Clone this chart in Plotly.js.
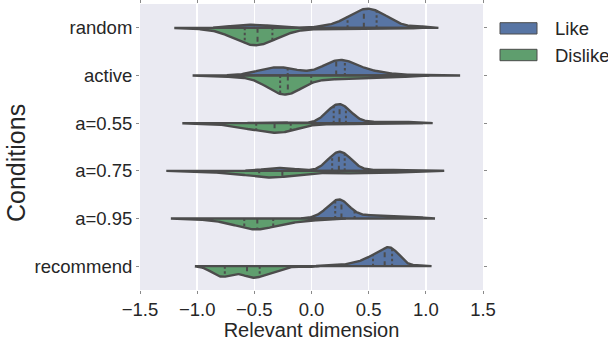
<!DOCTYPE html>
<html><head><meta charset="utf-8">
<script src="https://cdn.plot.ly/plotly-3.0.1.min.js"></script>
<style>html,body{margin:0;padding:0;background:#fff;}#chart{width:608px;height:341px;}</style>
</head><body><div id="chart"></div>
<script>
// ---------- data ----------
const conditions = ["random", "active", "a=0.55", "a=0.75", "a=0.95", "recommend"];
const hueNames = ["Like", "Dislike"];
const xTickValues = [-1.5, -1.0, -0.5, 0.0, 0.5, 1.0, 1.5];
const xTickLabels = ["\u22121.5", "\u22121.0", "\u22120.5", "0.0", "0.5", "1.0", "1.5"];

const likeRandom = [-0.70,-0.59,-0.52,-0.45,-0.34,0.196,0.265,0.302,0.329,0.351,0.37,0.388,0.403,0.418,0.432,0.445,0.458,0.471,0.484,0.496,0.509,0.522,0.535,0.548,0.562,0.577,0.592,0.61,0.629,0.651,0.678,0.715,0.784,0.103,0.301,0.431,0.549,0.679,0.95];
const dislikeRandom = [-0.98,-0.76,-0.63,-0.50,-0.37,-0.24,-0.06,-0.80,-0.73,-0.69,-0.66,-0.638,-0.618,-0.60,-0.584,-0.57,-0.557,-0.544,-0.532,-0.519,-0.508,-0.496,-0.484,-0.472,-0.461,-0.448,-0.436,-0.423,-0.41,-0.396,-0.38,-0.362,-0.342,-0.318,-0.29,-0.25,-0.18,0.15,0.35,0.55,0.75];
const likeActive = [-0.48,-0.417,-0.379,-0.35,-0.325,-0.302,-0.278,-0.255,-0.23,-0.201,-0.163,-0.10,0.14,0.167,0.182,0.194,0.203,0.212,0.22,0.228,0.235,0.242,0.25,0.258,0.267,0.276,0.288,0.303,0.33,0.36,0.41,0.46,0.51,0.57,0.66,1.04];
const dislikeActive = [-0.78,-0.56,-0.45,-0.375,-0.341,-0.323,-0.309,-0.298,-0.288,-0.28,-0.272,-0.265,-0.257,-0.251,-0.244,-0.237,-0.231,-0.224,-0.217,-0.211,-0.203,-0.196,-0.188,-0.18,-0.17,-0.159,-0.145,-0.127,-0.093,-0.02,0.05,0.12,0.19,0.26,0.33,0.41,0.49,0.57,0.66,0.77];
const likeA55 = [-0.40,-0.25,0.102,0.133,0.15,0.163,0.173,0.181,0.189,0.196,0.203,0.209,0.215,0.221,0.226,0.232,0.237,0.243,0.248,0.254,0.259,0.265,0.271,0.277,0.284,0.291,0.299,0.307,0.317,0.33,0.347,0.378,0.52,0.64,0.78,0.90];
const dislikeA55 = [-0.95,-0.751,-0.694,-0.65,-0.611,-0.581,-0.551,-0.523,-0.50,-0.478,-0.454,-0.433,-0.415,-0.397,-0.38,-0.362,-0.345,-0.331,-0.315,-0.301,-0.286,-0.271,-0.256,-0.239,-0.221,-0.204,-0.186,-0.169,-0.143,-0.116,-0.089,-0.002,0.119,0.321,0.528,0.795];
const likeA75 = [-0.418,-0.347,-0.301,-0.259,-0.213,-0.142,0.119,0.147,0.163,0.174,0.183,0.191,0.199,0.205,0.211,0.217,0.222,0.227,0.232,0.237,0.242,0.247,0.252,0.257,0.262,0.267,0.272,0.277,0.283,0.289,0.295,0.303,0.311,0.32,0.331,0.347,0.375,0.55,0.72,1.0];
const dislikeA75 = [-1.03,-0.86,-0.78,-0.71,-0.65,-0.60,-0.56,-0.52,-0.49,-0.465,-0.455,-0.43,-0.41,-0.385,-0.365,-0.345,-0.325,-0.305,-0.285,-0.265,-0.245,-0.22,-0.19,-0.16,-0.125,-0.08,-0.02,0.05,0.13,0.23,0.27,0.33,0.39,0.45,0.51,0.57,0.64,0.72,0.82,0.92];
const likeA95 = [0.05,0.11,0.114,0.143,0.159,0.171,0.181,0.189,0.196,0.203,0.209,0.215,0.221,0.227,0.232,0.237,0.243,0.248,0.253,0.259,0.265,0.271,0.277,0.284,0.291,0.299,0.309,0.321,0.337,0.366,0.41,0.46,0.51,0.56,0.61,0.66,0.71,0.77,0.84,0.94];
const dislikeA95 = [-1.03,-0.88,-0.8,-0.76,-0.73,-0.70,-0.67,-0.645,-0.62,-0.597,-0.585,-0.572,-0.56,-0.548,-0.536,-0.524,-0.512,-0.50,-0.488,-0.478,-0.47,-0.455,-0.44,-0.425,-0.41,-0.395,-0.38,-0.365,-0.35,-0.34,-0.32,-0.29,-0.26,-0.23,-0.2,-0.16,-0.12,-0.07,0.0,0.1];
const likeRecommend = [0.15,0.30,0.36,0.40,0.43,0.46,0.48,0.50,0.515,0.527,0.538,0.55,0.562,0.574,0.586,0.597,0.607,0.617,0.626,0.634,0.64,0.645,0.652,0.658,0.664,0.67,0.676,0.682,0.689,0.696,0.705,0.713,0.72,0.728,0.736,0.744,0.752,0.762,0.775,0.80,0.94];
const dislikeRecommend = [-0.9,-0.87,-0.845,-0.83,-0.815,-0.80,-0.79,-0.782,-0.774,-0.768,-0.755,-0.74,-0.72,-0.70,-0.68,-0.655,-0.63,-0.61,-0.59,-0.57,-0.558,-0.546,-0.535,-0.524,-0.513,-0.502,-0.49,-0.478,-0.466,-0.456,-0.445,-0.43,-0.41,-0.39,-0.37,-0.345,-0.32,-0.29,-0.24,-0.05];

// KDE bandwidths (smoothing parameter per violin half)
const likeBandwidth = [0.08, 0.13, 0.08, 0.08, 0.07, 0.055];
const dislikeBandwidth = [0.11, 0.13, 0.09, 0.12, 0.10, 0.06];

// ---------- styling ----------
const likeColor = "#5875A4";
const dislikeColor = "#5F9E6E";
const edgeColor = "#4C4C4C";
const textColor = "#262626";
const fontFamily = "'Liberation Sans', Arial, sans-serif";
const halfWidth = 0.4;   // seaborn width 0.8, split in two halves

const likeSamples = [likeRandom, likeActive, likeA55, likeA75, likeA95, likeRecommend];
const dislikeSamples = [dislikeRandom, dislikeActive, dislikeA55, dislikeA75, dislikeA95, dislikeRecommend];

function density(sample, bw, x) {
  let s = 0;
  for (const v of sample) { const z = (x - v) / bw; s += Math.exp(-0.5 * z * z); }
  return s / (sample.length * bw * Math.sqrt(2 * Math.PI));
}
function kde(sample, bw) {
  const lo = Math.min(...sample) - 2 * bw, hi = Math.max(...sample) + 2 * bw;
  const n = 240, xs = [], ds = [];
  for (let i = 0; i < n; i++) { const x = lo + (hi - lo) * i / (n - 1); xs.push(x); ds.push(density(sample, bw, x)); }
  return {xs, ds};
}
function percentile(sample, p) {
  const s = [...sample].sort((a, b) => a - b);
  const pos = p * (s.length - 1), lo = Math.floor(pos), hi = Math.min(lo + 1, s.length - 1);
  return s[lo] + (s[hi] - s[lo]) * (pos - lo);
}

const traces = [];
const quartX = [], quartY = [], medX = [], medY = [];
conditions.forEach((cond, i) => {
  const kL = kde(likeSamples[i], likeBandwidth[i]);
  const kD = kde(dislikeSamples[i], dislikeBandwidth[i]);
  const maxD = Math.max(...kL.ds, ...kD.ds);
  const scale = halfWidth / maxD;
  const halves = [
    {k: kL, sign: -1, color: likeColor, sample: likeSamples[i], bw: likeBandwidth[i], name: hueNames[0]},
    {k: kD, sign: 1, color: dislikeColor, sample: dislikeSamples[i], bw: dislikeBandwidth[i], name: hueNames[1]}
  ];
  halves.forEach(h => {
    const xs = h.k.xs.concat(h.k.xs.slice().reverse());
    const ys = h.k.ds.map(d => i + h.sign * d * scale).concat(h.k.xs.map(() => i));
    traces.push({type: "scatter", mode: "lines", x: xs, y: ys, fill: "toself", fillcolor: h.color,
      line: {color: edgeColor, width: 2.4}, hoverinfo: "skip", showlegend: false, name: h.name + " " + cond});
    [0.25, 0.5, 0.75].forEach(p => {
      const q = percentile(h.sample, p);
      const top = i + h.sign * density(h.sample, h.bw, q) * scale;
      const X = p === 0.5 ? medX : quartX, Y = p === 0.5 ? medY : quartY;
      X.push(q, q, null); Y.push(i, top, null);
    });
  });
});
traces.push({type: "scatter", mode: "lines", x: quartX, y: quartY, line: {color: edgeColor, width: 2, dash: "2.5px,2.5px"}, hoverinfo: "skip", showlegend: false, connectgaps: false});
traces.push({type: "scatter", mode: "lines", x: medX, y: medY, line: {color: edgeColor, width: 2, dash: "5px,4px"}, hoverinfo: "skip", showlegend: false, connectgaps: false});

// plot area in px: x 140..483, y 4..290
const L = 140, R = 483, T = 4, B = 290;
const px = v => (v - L) / (R - L), py = v => (B - v) / (B - T);

const layout = {
  width: 608, height: 341,
  margin: {l: L, r: 608 - R, t: T, b: 341 - B, pad: 0},
  paper_bgcolor: "#FFFFFF", plot_bgcolor: "#EAEAF2",
  font: {family: fontFamily, color: textColor, size: 18},
  showlegend: false,
  xaxis: {range: [-1.5, 1.5], tickvals: xTickValues, ticktext: xTickLabels, showgrid: true, gridcolor: "#FFFFFF", gridwidth: 1.6,
    zeroline: false, showline: false, ticks: "outside", ticklen: 3, tickwidth: 1, tickcolor: "#8A8A8A", mirror: "ticks",
    tickfont: {size: 18.5, color: textColor, family: fontFamily},
    title: {text: "Relevant dimension", font: {size: 20, color: textColor, family: fontFamily}, standoff: 6}},
  yaxis: {range: [5.5, -0.5], tickvals: conditions.map((c, i) => i), ticktext: conditions, showgrid: false, zeroline: false,
    showline: false, ticks: "outside", ticklen: 3, tickwidth: 1, tickcolor: "#8A8A8A", mirror: "ticks",
    tickfont: {size: 18.5, color: textColor, family: fontFamily}},
  shapes: [
    {type: "rect", xref: "paper", yref: "paper", x0: px(500), x1: px(537), y0: py(34), y1: py(22.7), fillcolor: likeColor, line: {color: edgeColor, width: 1}},
    {type: "rect", xref: "paper", yref: "paper", x0: px(500), x1: px(537), y0: py(60.7), y1: py(49.3), fillcolor: dislikeColor, line: {color: edgeColor, width: 1}}
  ],
  annotations: [
    {xref: "paper", yref: "paper", x: px(553), y: py(28.4), xanchor: "left", yanchor: "middle", text: hueNames[0], showarrow: false, font: {size: 18.5, color: textColor, family: fontFamily}},
    {xref: "paper", yref: "paper", x: px(553), y: py(55), xanchor: "left", yanchor: "middle", text: hueNames[1], showarrow: false, font: {size: 18.5, color: textColor, family: fontFamily}},
    {xref: "paper", yref: "paper", x: px(16), y: py(163), xanchor: "center", yanchor: "middle", textangle: -90, text: "Conditions", showarrow: false, font: {size: 25, color: textColor, family: fontFamily}}
  ]
};

Plotly.newPlot("chart", traces, layout, {staticPlot: true, displayModeBar: false});
</script>
</body></html>
